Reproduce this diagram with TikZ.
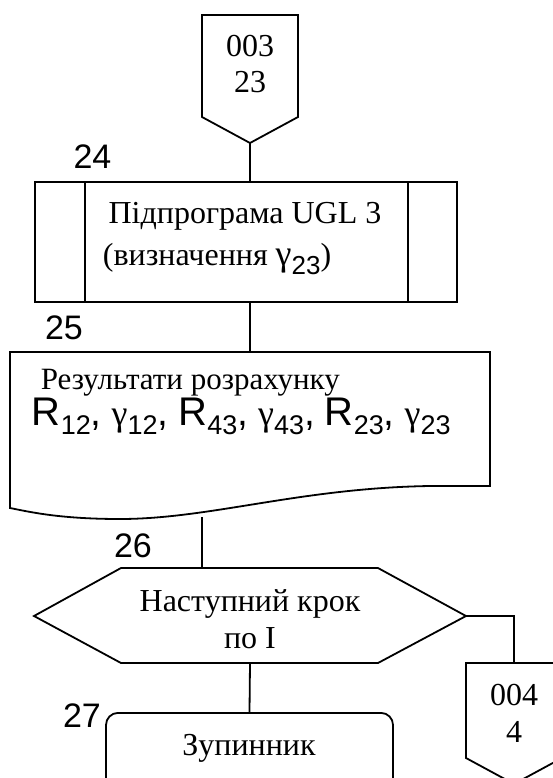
\documentclass[tikz,border=0pt]{standalone}
\usepackage{fontspec}
\setmainfont{Liberation Serif}
\newfontfamily\arialfam{Liberation Sans}
\usetikzlibrary{calc}
% subscripted symbols in the result list
\newcommand\symR[1]{{\arialfam\fontsize{40}{40}\selectfont R\raisebox{-9pt}{\fontsize{27}{27}\selectfont #1}}}
\newcommand\symG[1]{{\fontsize{36}{36}\selectfont γ}{\arialfam\raisebox{-9pt}{\fontsize{27}{27}\selectfont #1}}}
\newcommand\sep{{\arialfam\fontsize{39}{40}\selectfont ,}\hspace{10pt}}
\begin{document}
\begin{tikzpicture}[x=1pt,y=-1pt,line width=1.8pt,line join=miter,
  numlbl/.style={font=\arialfam\fontsize{34}{36}\selectfont,inner sep=0pt},
  txt/.style={font=\fontsize{32}{36}\selectfont,inner sep=0pt,anchor=base},
  boxline/.style={draw,line width=1.8pt}]
\useasboundingbox (0,0) rectangle (552,778);

% off-page connector at the top
\draw (202,15) coordinate (c1nw) -- (298,15) -- (298,117) -- (250,143) coordinate (c1out)
  -- (202,117) -- cycle;
\node[txt] (c1a) at (250,57) {003};
\node[txt] (c1b) at (250,93) {23};

% block 24: predefined process
\node[boxline,minimum width=422pt,minimum height=120pt,inner sep=0pt] (sub) at (246,242) {};
\draw ($(sub.north west)+(51,0)$) -- ($(sub.south west)+(51,0)$);
\draw ($(sub.north east)+(-50,0)$) -- ($(sub.south east)+(-50,0)$);
\node[txt] (subt1) at (245,223) {Підпрограма UGL 3};
\node[txt,anchor=base west] (subt2) at (102,265)
  {(визначення {\fontsize{36}{36}\selectfont γ}{\arialfam\raisebox{-9pt}{\fontsize{26}{26}\selectfont 23}})};
\node[numlbl] (n24) at (92.5,157) {24};
\draw (c1out) -- (c1out |- sub.north);

% block 25: document (output)
\draw (10,352) coordinate (docnw) -- (490,352) coordinate (docne) -- (490,486)
  -- (430,486) .. controls (300,488) and (210,519) .. (120,519) coordinate (docdip)
  .. controls (60,519) and (30,512) .. (10,508) -- cycle;
\coordinate (docin) at (250,352);
\coordinate (docout) at (202,517);
\node[txt,anchor=base west,font=\fontsize{31}{36}\selectfont] (doct1) at (40,389) {Результати розрахунку};
\node[inner sep=0pt,anchor=base west] (doct2) at (31,425)
  {\symR{12}\sep\symG{12}\sep\symR{43}\sep\symG{43}\sep\symR{23}\sep\symG{23}};
\node[numlbl] (n25) at (64,328) {25};
\draw (250,302) -- (docin);

% block 26: loop limit hexagon
\draw (34,616) coordinate (hexw) -- (121,568) -- (378,568) -- (466,616) coordinate (hexe)
  -- (378,663) -- (121,663) -- cycle;
\coordinate (hexin) at (202,568);
\coordinate (hexout) at (250,663);
\node[txt] (hexa) at (250,611) {Наступний крок};
\node[txt] (hexb) at (250,648) {по I};
\node[numlbl] (n26) at (133,546) {26};
\draw (docout) -- (hexin);

% block 27: terminator
\node[boxline,rounded corners=12pt,minimum width=287pt,minimum height=110pt,inner sep=0pt,
  anchor=north] (stop) at (249.5,712) {};
\node[txt] (stopt) at (249,755) {Зупинник};
\node[numlbl] (n27) at (82,716) {27};
\draw (hexout) -- (stop.north);

% off-page connector on the right
\draw (466,663) coordinate (c2nw) -- (562,663) -- (562,758) -- (514,784) -- (466,758) -- cycle;
\coordinate (c2in) at (514,663);
\node[txt] (c2a) at (514,705) {004};
\node[txt] (c2b) at (514,742) {4};
\draw (hexe) -- (c2in |- hexe) -- (c2in);
\end{tikzpicture}
\end{document}
